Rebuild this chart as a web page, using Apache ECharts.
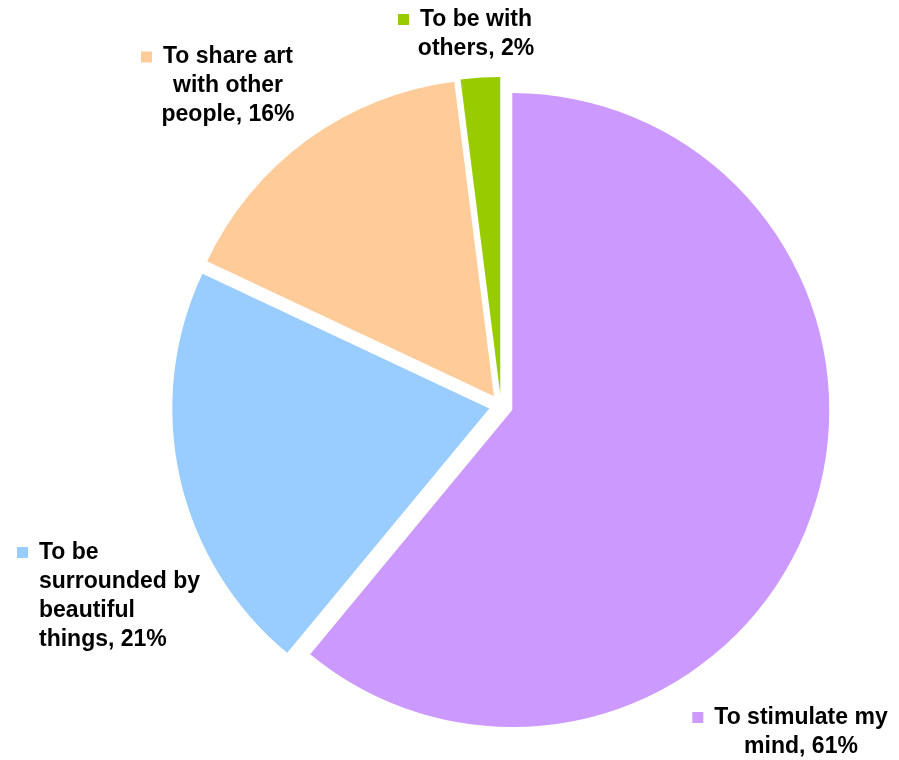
<!DOCTYPE html>
<html>
<head>
<meta charset="utf-8">
<title>Reasons for engaging with art</title>
<script src="https://cdn.jsdelivr.net/npm/echarts@6/dist/echarts.min.js"></script>
<style>
  html, body { margin: 0; padding: 0; background: #ffffff; }
  #chart { width: 899px; height: 760px; }
</style>
</head>
<body>
<div id="chart"></div>
<script>
// Slices, clockwise from 12 o'clock
const categories = [
  'To stimulate my mind',
  'To be surrounded by beautiful things',
  'To share art with other people',
  'To be with others'
];
const shares = [61, 21, 16, 2];
// Wrapped label text (value is appended when the label is built)
const labelText = [
  'To stimulate my\nmind',
  'To be\nsurrounded by\nbeautiful\nthings',
  'To share art\nwith other\npeople',
  'To be with\nothers'
];
const colors = ['#CC99FF', '#99CCFF', '#FFCC99', '#99CC00'];

// Label block placement: anchor point (block middle) and alignment
const labelPlacement = [
  { x: 801, y: 732, align: 'center' },
  { x: 17,  y: 596, align: 'left' },
  { x: 228, y: 86,  align: 'center' },
  { x: 476, y: 34,  align: 'center' }
];

const FONT = '"Liberation Sans", Arial, sans-serif';
const FONT_SIZE = 23, LINE_H = 29;
const MARK = 11, GAP = 11;

function textToken(centered) {
  const s = { fontFamily: FONT, fontWeight: 'bold', fontSize: FONT_SIZE, fill: '#000', lineHeight: LINE_H };
  if (centered) s.align = 'center';
  return s;
}

function buildRich(i, centered) {
  const r = {
    t: textToken(centered),
    m: { width: MARK, height: MARK, backgroundColor: colors[i] },
    g: { width: GAP, height: MARK },
    pad: { width: MARK + GAP, height: MARK }
  };
  if (centered) { r.m.align = 'center'; r.g.align = 'center'; r.pad.align = 'center'; }
  return r;
}

function buildLabel(i) {
  const centered = labelPlacement[i].align === 'center';
  const lines = (labelText[i] + ', ' + shares[i] + '%').split('\n');
  return lines.map((ln, k) => {
    if (k === 0) return '{m|}{g|}{t|' + ln + '}' + (centered ? '{pad|}' : '');
    return (centered ? '' : '{pad|}') + '{t|' + ln + '}';
  }).join('\n');
}

const labels = categories.map((name, i) => ({
  type: 'text',
  z: 10,
  x: labelPlacement[i].x,
  y: labelPlacement[i].y,
  style: {
    text: buildLabel(i),
    rich: buildRich(i, labelPlacement[i].align === 'center'),
    align: labelPlacement[i].align,
    verticalAlign: 'middle',
    fontFamily: FONT,
    fontWeight: 'bold',
    fontSize: FONT_SIZE,
    fill: '#000'
  }
}));

const chart = echarts.init(document.getElementById('chart'), null, { renderer: 'canvas' });
chart.setOption({
  animation: false,
  backgroundColor: '#ffffff',
  graphic: labels,
  series: [{
    type: 'pie',
    center: [501, 406],
    radius: 317,
    startAngle: 90,
    clockwise: true,
    selectedMode: 'multiple',
    selectedOffset: 12,
    avoidLabelOverlap: false,
    emphasis: { disabled: true },
    itemStyle: { borderWidth: 0 },
    label: { show: false },
    labelLine: { show: false },
    data: categories.map((name, i) => ({
      name: name,
      value: shares[i],
      selected: true,
      itemStyle: { color: colors[i] }
    }))
  }]
});
</script>
</body>
</html>
